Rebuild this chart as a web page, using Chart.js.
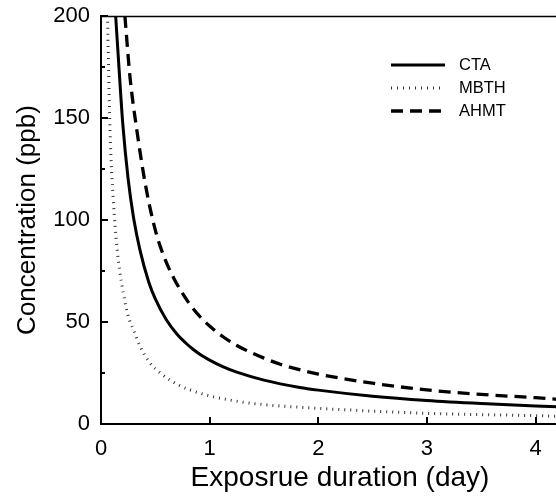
<!DOCTYPE html>
<html>
<head>
<meta charset="utf-8">
<script src="https://cdn.jsdelivr.net/npm/chart.js@4/dist/chart.umd.min.js"></script>
<style>
  html, body { margin: 0; padding: 0; background: #fff; overflow: hidden; }
  #wrap { width: 579px; height: 497px; }
</style>
</head>
<body>
<div id="wrap"><canvas id="chart1" width="579" height="497"></canvas></div>
<script>
// exposure time (day) vs concentration (ppb)
const ctaDays  = [0.135, 0.17, 0.2, 0.25, 0.3, 0.36, 0.44, 0.5, 0.6, 0.7, 0.78, 0.85, 0.92, 1.0, 1.12, 1.25, 1.5, 1.83, 2.0, 2.5, 3.0, 3.5, 4.0, 4.2];
const ctaPpb   = [200, 171, 147.5, 120, 101, 85, 69.5, 61.3, 51.2, 44, 39.7, 36.5, 33.8, 31.3, 28.1, 25.4, 21.5, 17.9, 16.6, 13.6, 11.5, 10, 8.8, 8.4];

const mbthDays = [0.06, 0.083, 0.113, 0.15, 0.19, 0.25, 0.3, 0.36, 0.45, 0.55, 0.7, 0.82, 1.0, 1.28, 1.5, 1.83, 2.5, 3.0, 3.5, 4.0, 4.2];
const mbthPpb  = [200, 144, 110, 85, 69, 53, 46, 38, 30, 24.8, 19.5, 16.7, 13.8, 10.9, 9.5, 8.2, 6.3, 5.2, 4.6, 4.1, 3.8];

const ahmtDays = [0.22, 0.267, 0.33, 0.41, 0.5, 0.58, 0.67, 0.8, 0.9, 1.0, 1.12, 1.25, 1.5, 1.65, 2.0, 2.5, 3.0, 3.5, 4.0, 4.2];
const ahmtPpb  = [200, 170, 144, 117, 95, 82, 71.5, 60, 53.3, 48, 42.9, 38.5, 32.3, 29.3, 24.5, 20, 16.7, 14.5, 12.9, 12.1];

const seriesNames = ['CTA', 'MBTH', 'AHMT'];
const yMinorTicks = [25, 75, 125, 175];

const FONT = '"Liberation Sans", Arial, Helvetica, sans-serif';

function toPoints(days, ppb) {
  return days.map((d, i) => ({ x: d, y: ppb[i] }));
}

// short ticks pointing into the plot, plus the top frame line
const innerTicks = {
  id: 'innerTicks',
  afterDatasetsDraw(chart) {
    const { ctx, chartArea, scales: { x, y } } = chart;
    ctx.save();
    ctx.strokeStyle = '#000';
    ctx.lineWidth = 2;
    ctx.beginPath();
    x.ticks.forEach(t => {
      const px = Math.round(x.getPixelForValue(t.value));
      ctx.moveTo(px, chartArea.bottom);
      ctx.lineTo(px, chartArea.bottom - 7);
    });
    y.ticks.forEach(t => {
      const py = Math.round(y.getPixelForValue(t.value));
      ctx.moveTo(chartArea.left, py);
      ctx.lineTo(chartArea.left + 7, py);
    });
    yMinorTicks.forEach(v => {
      const py = Math.round(y.getPixelForValue(v));
      ctx.moveTo(chartArea.left, py);
      ctx.lineTo(chartArea.left + 4, py);
    });
    ctx.stroke();
    ctx.lineWidth = 1.5;
    ctx.beginPath();
    ctx.moveTo(chartArea.left, chartArea.top + 0.5);
    ctx.lineTo(chartArea.right, chartArea.top + 0.5);
    ctx.stroke();
    ctx.restore();
  }
};

// legend drawn inside the plot, top right
const insetLegend = {
  id: 'insetLegend',
  afterDraw(chart) {
    const ctx = chart.ctx;
    ctx.save();
    chart.data.datasets.forEach((ds, i) => {
      const yRow = 65 + i * 23;
      ctx.strokeStyle = ds.borderColor;
      ctx.lineWidth = ds.legendWidth;
      ctx.setLineDash(ds.borderDash || []);
      ctx.beginPath();
      ctx.moveTo(391, yRow);
      ctx.lineTo(445, yRow);
      ctx.stroke();
      ctx.setLineDash([]);
      ctx.fillStyle = '#000';
      ctx.font = '16.5px ' + FONT;
      ctx.textBaseline = 'middle';
      ctx.textAlign = 'left';
      ctx.fillText(ds.label, 459, yRow);
    });
    ctx.restore();
  }
};

const ctx = document.getElementById('chart1');
const myChart = new Chart(ctx, {
  type: 'line',
  data: {
    datasets: [
      {
        label: seriesNames[0],
        data: toPoints(ctaDays, ctaPpb),
        borderColor: '#000',
        borderWidth: 3,
        legendWidth: 2.8
      },
      {
        label: seriesNames[1],
        data: toPoints(mbthDays, mbthPpb),
        borderColor: '#333',
        borderWidth: 3,
        borderDash: [1, 5],
        legendWidth: 3
      },
      {
        label: seriesNames[2],
        data: toPoints(ahmtDays, ahmtPpb),
        borderColor: '#000',
        borderWidth: 3.3,
        borderDash: [12, 7],
        legendWidth: 3.3
      }
    ]
  },
  options: {
    responsive: false,
    animation: false,
    layout: { padding: { top: 16, right: 0, left: 0, bottom: 0 } },
    elements: {
      point: { radius: 0 },
      line: { cubicInterpolationMode: 'monotone', fill: false }
    },
    plugins: {
      legend: { display: false },
      tooltip: { enabled: false }
    },
    scales: {
      x: {
        type: 'linear',
        min: 0,
        max: 4.4,
        afterFit: s => { s.height = 73; s.paddingLeft = 0; s.paddingRight = 0; },
        grid: { display: false, drawTicks: false },
        border: { display: true, color: '#000', width: 2 },
        ticks: {
          stepSize: 1,
          includeBounds: false,
          padding: 12,
          color: '#000',
          font: { family: FONT, size: 22 },
          callback: v => Number.isInteger(v) ? v : ''
        },
        title: {
          display: true,
          text: 'Exposrue duration (day)',
          color: '#000',
          font: { family: FONT, size: 28 },
          padding: { top: 0, bottom: 2 }
        }
      },
      y: {
        min: 0,
        max: 200,
        afterFit: s => { s.width = 101; s.paddingTop = 0; s.paddingBottom = 0; },
        grid: { display: false, drawTicks: false },
        border: { display: true, color: '#000', width: 2 },
        ticks: {
          stepSize: 50,
          padding: 11,
          color: '#000',
          font: { family: FONT, size: 22 }
        },
        title: {
          display: true,
          text: 'Concentration (ppb)',
          color: '#000',
          font: { family: FONT, size: 26 },
          padding: { top: 12, bottom: 0 }
        }
      }
    }
  },
  plugins: [innerTicks, insetLegend]
});
</script>
</body>
</html>
